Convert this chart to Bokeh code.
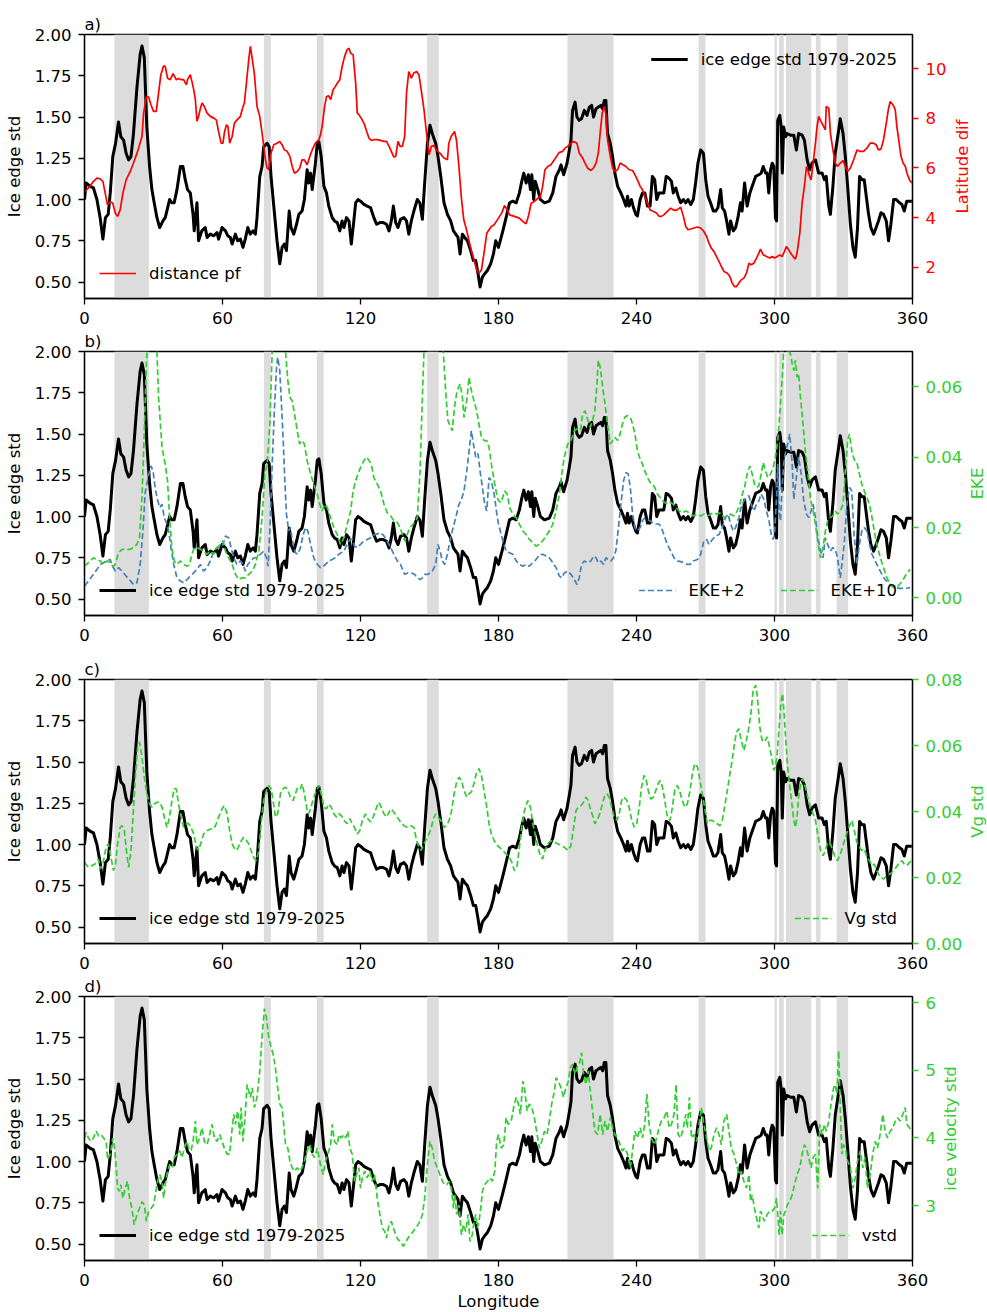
import math
from bokeh.plotting import figure
from bokeh.models import (Range1d, LinearAxis, FixedTicker, PrintfTickFormatter,
                          BoxAnnotation, Legend, LegendItem, Label)
from bokeh.layouts import column, row
from bokeh.embed import file_html
from bokeh.resources import INLINE

FONT = "DejaVu Sans"
FS = "16.5px"

# ---------------- data ----------------
ice_lon = [0, 0.7, 2.5, 3.9, 5.4, 6.8, 8.0, 9.1, 10.3, 11.2, 12.3, 13.5, 14.8, 15.8, 17.0, 18.1, 19.2, 20.2, 21.3, 22.8,
           24.2, 25.0, 26.0, 27.1, 28.3, 29.3, 30.3, 31.5, 32.7, 34.1, 35.1, 35.8, 37.0, 38.0, 39.0, 40.2, 41.7, 42.8, 43.8, 44.8,
           46.0, 47.2, 47.7, 48.9, 49.6, 51.0, 52.5, 53.3, 54.7, 56.2, 57.6, 58.3, 59.8, 61.3, 62.3, 63.4, 64.2, 65.6, 66.6, 67.8,
           68.9, 69.9, 71.0, 72.1, 73.3, 74.3, 75.0, 76.2, 77.2, 77.9, 79.4, 80.3, 81.1, 82.3, 83.7, 84.9, 85.9, 86.9, 87.8, 89.0,
           89.8, 91.0, 92.2, 93.2, 94.6, 95.6, 96.8, 97.5, 98.3, 99.0, 99.7, 100.4, 101.2, 101.9, 102.9, 104.1, 105.2, 106.2, 107.7, 108.7,
           109.9, 111.0, 112.0, 112.8, 113.9, 115.0, 116.0, 117.1, 117.9, 118.9, 120.0, 121.5, 122.9, 124.4, 125.8, 127.0, 128.4, 129.9, 131.3, 132.4,
           133.4, 134.3, 135.3, 136.3, 137.4, 138.9, 140.0, 141.0, 142.1, 143.2, 144.7, 145.8, 146.9, 147.9, 149.1, 150.2, 151.2, 152.7, 153.7, 154.9,
           156.3, 157.8, 159.2, 160.4, 161.4, 162.4, 163.3, 164.3, 165.3, 166.5, 167.9, 169.1, 170.1, 171.1, 172.0, 173.0, 174.0, 175.2, 176.6, 177.8,
           178.8, 180.0, 181.9, 183.3, 184.8, 186.2, 187.7, 189.1, 190.1, 191.0, 192.0, 193.0, 193.9, 194.5, 195.3, 196.0, 197.1, 198.2, 200.0, 202.1,
           203.6, 205.0, 206.5, 207.2, 208.3, 209.8, 210.8, 211.5, 212.2, 213.3, 214.1, 215.1, 216.1, 217.3, 218.5, 219.5, 220.5, 221.3, 222.4, 223.4,
           224.5, 225.3, 226.0, 226.7, 227.4, 228.6, 229.6, 230.6, 231.8, 233.2, 234.4, 235.4, 236.1, 236.8, 237.8, 238.7, 239.7, 240.4, 241.6, 242.6,
           243.6, 244.8, 245.9, 246.9, 247.9, 248.8, 249.8, 250.8, 251.9, 252.9, 254.1, 255.2, 256.0, 257.1, 258.1, 259.2, 260.4, 261.4, 262.4, 263.6,
           264.7, 265.7, 266.7, 267.9, 269.1, 270.1, 271.1, 272.2, 273.4, 274.4, 275.4, 276.6, 277.3, 278.3, 279.2, 280.2, 280.9, 282.1, 283.1, 284.1,
           285.2, 285.9, 287.0, 288.1, 289.3, 290.3, 291.8, 293.2, 294.2, 295.1, 296.1, 296.8, 297.5, 298.3, 299.0, 299.7, 300.4, 300.9, 301.4, 302.3,
           302.9, 303.4, 304.0, 304.8, 305.5, 306.9, 308.4, 309.5, 310.5, 312.0, 313.0, 314.2, 315.3, 316.3, 317.8, 319.2, 320.7, 321.7, 322.5, 323.6,
           324.3, 325.4, 326.4, 327.9, 328.6, 329.8, 330.8, 331.8, 333.0, 334.1, 335.1, 336.1, 337.0, 338.0, 339.0, 339.9, 340.9, 341.9, 343.1, 344.2,
           345.2, 346.3, 347.4, 348.6, 349.6, 350.6, 351.8, 352.9, 354.4, 355.4, 356.4, 357.5, 358.7, 359.7]
ice_std = [1.00, 1.10, 1.08, 1.07, 1.00, 0.89, 0.76, 0.89, 0.91, 1.04, 1.26, 1.34, 1.47, 1.38, 1.36, 1.28, 1.24, 1.26, 1.40, 1.68,
           1.88, 1.93, 1.86, 1.44, 1.20, 1.06, 0.98, 0.89, 0.83, 0.87, 0.89, 0.93, 1.00, 0.98, 0.98, 1.06, 1.20, 1.20, 1.12, 1.06,
           1.04, 0.91, 0.81, 0.98, 0.75, 0.81, 0.83, 0.77, 0.79, 0.78, 0.80, 0.76, 0.83, 0.81, 0.78, 0.77, 0.73, 0.79, 0.75, 0.76,
           0.71, 0.76, 0.83, 0.79, 0.81, 0.79, 0.89, 1.14, 1.20, 1.32, 1.34, 1.32, 1.14, 0.96, 0.75, 0.61, 0.71, 0.73, 0.69, 0.93,
           0.83, 0.79, 0.85, 0.91, 0.93, 1.00, 1.18, 1.10, 1.16, 1.06, 1.14, 1.22, 1.34, 1.35, 1.26, 1.08, 1.04, 0.96, 0.89, 0.87,
           0.86, 0.81, 0.87, 0.83, 0.89, 0.87, 0.73, 0.87, 0.98, 1.00, 0.99, 0.97, 0.96, 0.95, 0.89, 0.85, 0.86, 0.86, 0.85, 0.81,
           0.87, 0.96, 0.86, 0.83, 0.88, 0.89, 0.87, 0.79, 0.87, 0.93, 1.00, 0.98, 0.88, 1.10, 1.34, 1.45, 1.40, 1.34, 1.26, 1.14,
           0.98, 0.91, 0.87, 0.81, 0.79, 0.77, 0.67, 0.79, 0.77, 0.75, 0.69, 0.63, 0.63, 0.55, 0.47, 0.53, 0.55, 0.57, 0.61, 0.67,
           0.75, 0.71, 0.81, 0.89, 0.98, 0.99, 0.98, 1.04, 1.11, 1.16, 1.10, 1.15, 1.06, 1.15, 1.00, 1.11, 1.06, 1.00, 0.98, 0.99,
           1.04, 1.14, 1.18, 1.21, 1.15, 1.22, 1.30, 1.36, 1.54, 1.59, 1.50, 1.48, 1.49, 1.54, 1.51, 1.56, 1.57, 1.50, 1.55, 1.56,
           1.57, 1.55, 1.60, 1.60, 1.40, 1.34, 1.26, 1.16, 1.08, 1.04, 1.00, 0.96, 1.02, 0.96, 1.00, 0.95, 0.91, 0.90, 1.00, 1.04,
           1.04, 0.96, 0.96, 1.14, 1.12, 1.00, 1.04, 1.04, 1.04, 1.14, 1.13, 1.11, 1.04, 1.07, 1.02, 0.98, 1.00, 0.98, 1.00, 0.97,
           1.00, 1.10, 1.22, 1.30, 1.28, 1.12, 1.02, 0.98, 0.93, 0.93, 0.95, 1.06, 0.95, 0.93, 0.87, 0.79, 0.87, 0.81, 0.83, 0.89,
           0.98, 0.93, 1.10, 0.96, 1.04, 1.08, 1.14, 1.15, 1.16, 1.20, 1.16, 1.16, 1.04, 1.18, 1.22, 1.20, 0.89, 0.87, 1.48, 1.51,
           1.44, 1.16, 1.44, 1.38, 1.40, 1.39, 1.39, 1.30, 1.40, 1.39, 1.36, 1.24, 1.18, 1.22, 1.24, 1.16, 1.16, 1.12, 1.14, 0.96,
           0.91, 1.08, 1.28, 1.42, 1.49, 1.40, 1.26, 1.08, 0.85, 0.71, 0.65, 0.83, 1.14, 1.12, 1.12, 1.02, 0.91, 0.83, 0.79, 0.83,
           0.87, 0.92, 0.91, 0.87, 0.75, 0.85, 1.00, 1.00, 0.98, 0.97, 0.93, 0.99, 0.99, 0.99]

pf_lon = [0, 1.7, 3.9, 5.4, 6.8, 8.0, 9.0, 10.0, 11.2, 12.3, 13.4, 14.4, 15.5, 16.7, 18.1, 19.9, 21.3, 23.1, 25.0, 25.7,
          26.9, 27.9, 28.9, 30.0, 31.2, 32.2, 33.2, 34.4, 35.1, 36.1, 37.3, 38.5, 39.9, 40.9, 42.0, 43.1, 44.3, 44.8, 46.0, 46.7,
          47.5, 48.2, 48.9, 49.6, 50.4, 51.1, 52.1, 53.3, 54.7, 56.2, 57.3, 58.3, 59.4, 60.2, 60.8, 61.7, 62.4, 63.1, 64.2, 65.2,
          66.3, 67.1, 67.8, 68.5, 69.5, 70.4, 71.4, 72.1, 72.9, 73.9, 75.0, 76.2, 77.2, 78.7, 79.4, 80.1, 81.1, 82.3, 83.7, 84.9,
          85.9, 86.9, 88.1, 89.3, 90.3, 91.3, 92.5, 93.6, 94.6, 95.6, 96.8, 98.0, 99.0, 100.4, 101.9, 102.6, 103.3, 104.4, 105.2, 106.2,
          107.0, 108.1, 109.1, 109.9, 111.0, 112.0, 113.1, 114.2, 115.0, 115.7, 116.8, 117.9, 118.6, 119.3, 120.3, 121.5, 122.7, 123.7, 124.7, 125.8,
          127.3, 128.7, 130.2, 131.3, 132.4, 133.4, 134.5, 135.3, 136.3, 137.2, 138.2, 139.2, 140.0, 141.0, 142.1, 143.2, 144.4, 145.4, 146.4, 147.6,
          148.7, 149.8, 150.8, 151.9, 153.4, 154.5, 156.3, 157.8, 158.4, 159.4, 160.9, 161.7, 162.8, 163.8, 164.9, 166.1, 167.1, 168.1, 169.3, 170.5,
          171.5, 172.6, 173.7, 174.9, 175.9, 176.9, 178.1, 179.5, 181.4, 182.6, 183.8, 184.8, 186.9, 189.1, 190.6, 192.0, 193.0, 194.2, 195.6, 197.1,
          198.2, 199.2, 200.2, 201.4, 202.8, 204.3, 205.7, 206.5, 207.9, 208.9, 210.1, 211.5, 212.7, 214.1, 215.1, 216.6, 217.6, 218.7, 220.2, 221.3,
          222.4, 223.4, 224.2, 225.1, 226.0, 226.7, 227.4, 228.6, 229.6, 230.6, 231.8, 232.9, 234.1, 235.4, 236.8, 238.3, 239.3, 240.4, 241.6, 242.6,
          243.6, 244.8, 245.9, 247.4, 248.8, 249.8, 250.8, 251.9, 253.4, 254.9, 256.0, 257.1, 258.1, 259.2, 260.4, 261.4, 262.4, 263.6, 265.0, 266.5,
          267.9, 269.3, 270.5, 271.5, 272.5, 273.7, 274.8, 275.9, 276.9, 278.0, 279.5, 280.6, 281.6, 282.6, 283.5, 284.5, 285.5, 286.7, 287.8, 288.9,
          289.9, 291.0, 292.2, 293.2, 293.9, 295.1, 296.5, 298.0, 299.0, 300.0, 301.2, 302.3, 303.3, 304.3, 305.2, 306.2, 307.0, 308.1, 309.1, 309.8,
          311.0, 312.0, 313.0, 313.9, 314.4, 315.3, 315.9, 316.8, 317.8, 318.5, 319.2, 320.2, 321.4, 322.1, 322.5, 323.6, 324.3, 325.4, 326.4, 327.4,
          328.6, 329.8, 330.8, 331.8, 333.0, 334.4, 335.9, 337.0, 338.7, 340.2, 341.6, 343.1, 344.2, 345.2, 346.3, 347.4, 348.6, 349.6, 350.3, 351.5,
          352.5, 353.2, 354.0, 355.0, 355.9, 356.9, 357.6, 358.7, 359.7]
pf_dist = [5.05, 5.19, 5.46, 5.59, 5.56, 5.46, 4.99, 4.52, 4.65, 4.58, 4.18, 4.05, 4.31, 4.99, 5.52, 5.86, 6.20, 6.67, 7.27, 8.21,
           8.88, 8.86, 8.55, 8.28, 8.28, 9.02, 9.76, 10.12, 10.09, 9.62, 9.56, 9.80, 9.56, 9.61, 9.56, 9.56, 9.35, 9.56, 9.76, 9.49,
           9.15, 8.75, 7.88, 8.08, 8.41, 8.62, 8.48, 8.21, 8.08, 8.01, 7.94, 7.47, 7.00, 7.00, 7.41, 7.74, 7.67, 7.00, 7.27, 7.81,
           7.94, 8.01, 8.08, 8.35, 8.62, 9.42, 10.36, 10.90, 10.43, 9.76, 8.48, 8.08, 7.41, 6.33, 6.00, 5.93, 6.60, 6.94, 7.00, 7.07,
           6.94, 6.73, 6.67, 6.47, 6.06, 5.79, 5.86, 6.00, 6.33, 6.33, 6.13, 6.47, 6.73, 7.00, 7.14, 7.34, 7.67, 8.48, 8.88, 8.91,
           8.75, 9.15, 9.29, 9.42, 9.56, 10.09, 10.50, 10.77, 10.83, 10.63, 10.56, 9.42, 8.21, 8.15, 8.01, 7.81, 7.47, 7.20, 7.11, 7.14,
           7.14, 7.11, 7.07, 7.07, 6.87, 6.67, 6.44, 6.47, 7.07, 6.87, 6.87, 7.27, 9.02, 9.89, 9.62, 9.83, 9.89, 9.76, 9.15, 8.35,
           7.41, 6.53, 6.87, 6.90, 6.67, 6.60, 6.40, 6.33, 7.00, 7.27, 7.47, 7.14, 6.06, 4.85, 3.91, 3.51, 3.10, 2.70, 2.30, 1.90,
           1.76, 1.90, 2.57, 3.37, 3.51, 3.64, 3.71, 3.91, 4.18, 4.49, 4.31, 4.11, 4.05, 3.98, 3.84, 3.75, 4.05, 4.58, 4.65, 4.78,
           4.83, 5.26, 5.93, 6.06, 6.13, 6.33, 6.53, 6.63, 6.67, 6.80, 6.87, 7.00, 7.07, 7.00, 6.60, 6.40, 6.20, 6.00, 5.90, 6.00,
           6.20, 6.60, 7.41, 8.21, 8.48, 8.15, 7.14, 6.47, 6.00, 5.86, 5.93, 6.20, 6.13, 6.06, 5.93, 5.90, 5.73, 5.52, 5.26, 5.12,
           4.85, 4.58, 4.31, 4.25, 4.18, 4.05, 4.05, 4.11, 4.25, 4.38, 4.31, 4.29, 4.34, 4.42, 4.05, 3.64, 3.51, 3.54, 3.58, 3.62,
           3.58, 3.44, 3.24, 2.97, 2.77, 2.63, 2.43, 2.23, 2.03, 1.83, 1.76, 1.63, 1.36, 1.22, 1.22, 1.36, 1.49, 1.56, 1.76, 2.16,
           2.10, 2.16, 2.37, 2.57, 2.73, 2.50, 2.43, 2.37, 2.43, 2.37, 2.43, 2.50, 2.43, 2.63, 2.84, 2.70, 2.57, 2.43, 2.33, 2.57,
           3.37, 4.58, 5.26, 6.06, 5.93, 5.66, 5.52, 6.20, 7.00, 7.67, 8.08, 7.88, 7.67, 7.54, 8.48, 8.41, 7.41, 6.73, 6.20, 6.06,
           6.20, 6.30, 6.06, 5.86, 6.00, 6.33, 6.73, 6.67, 6.67, 6.80, 7.00, 7.00, 6.94, 6.73, 6.76, 7.14, 7.81, 8.41, 8.68, 8.55,
           8.35, 7.67, 7.14, 6.47, 6.20, 6.06, 5.79, 5.52, 5.39]

eke2_lon = [0, 1.7, 3.9, 5.4, 6.8, 8.3, 9.7, 11.2, 12.2, 13.4, 14.8, 16.3, 18.1, 19.9, 21.3, 22.8, 24.2, 25.4, 26.4, 27.9,
            28.9, 29.8, 30.8, 31.5, 32.7, 33.7, 34.7, 35.8, 36.6, 37.6, 38.8, 40.2, 41.7, 43.1, 44.6, 46.0, 47.5, 48.9, 50.4, 51.8,
            53.3, 54.7, 56.2, 57.6, 59.1, 60.2, 61.3, 62.7, 63.7, 64.9, 66.3, 67.8, 68.9, 69.9, 71.0, 72.4, 73.6, 75.0, 76.5, 77.9,
            79.1, 79.8, 80.6, 81.6, 82.6, 83.5, 84.0, 84.9, 85.5, 86.4, 87.1, 87.8, 88.8, 89.5, 90.7, 91.7, 92.7, 93.9, 95.1, 96.1,
            97.1, 98.3, 99.7, 101.2, 102.6, 103.8, 104.8, 106.2, 107.7, 109.1, 110.6, 111.6, 112.8, 114.2, 115.4, 116.4, 117.4, 118.6, 120.0, 121.5,
            122.9, 124.4, 125.8, 127.3, 128.7, 130.2, 131.6, 133.1, 134.5, 136.0, 137.4, 139.2, 140.6, 142.1, 143.5, 144.7, 145.9, 146.9, 147.9, 149.4,
            151.2, 152.7, 153.7, 154.6, 155.6, 156.6, 157.8, 158.9, 159.9, 161.4, 162.8, 163.9, 165.0, 166.2, 167.2, 168.2, 169.1, 170.1, 171.1, 172.0,
            173.0, 174.0, 174.9, 175.9, 176.9, 178.1, 179.5, 180.0, 181.9, 183.3, 184.8, 186.2, 187.7, 189.1, 190.6, 192.0, 193.4, 194.9, 196.3, 197.8,
            199.2, 200.7, 202.1, 203.6, 205.0, 206.5, 207.5, 208.6, 210.1, 211.5, 213.0, 214.1, 215.1, 216.1, 217.3, 218.7, 220.2, 221.3, 222.4, 223.4,
            224.5, 225.7, 226.7, 227.7, 228.9, 230.0, 231.0, 232.0, 233.2, 234.4, 235.4, 236.4, 237.3, 238.3, 239.3, 240.4, 241.6, 242.6, 243.6, 244.8,
            245.9, 246.9, 248.4, 249.8, 250.8, 251.9, 253.4, 254.9, 256.3, 257.8, 259.2, 260.7, 262.1, 263.3, 264.7, 266.5, 267.9, 269.3, 270.5, 271.5,
            273.0, 274.4, 275.9, 277.3, 278.7, 279.8, 280.9, 282.1, 283.1, 284.5, 285.5, 286.7, 287.8, 288.9, 289.9, 291.0, 292.2, 293.2, 294.2, 295.4,
            296.5, 297.6, 298.6, 299.4, 300.0, 300.9, 301.4, 302.0, 302.6, 303.3, 304.0, 304.9, 305.7, 306.6, 307.7, 308.4, 309.5, 310.5, 311.6, 312.7,
            313.9, 314.9, 315.9, 316.8, 317.8, 318.8, 320.0, 321.1, 322.1, 323.1, 324.3, 325.4, 326.4, 327.4, 328.6, 329.3, 330.3, 331.5, 332.6, 333.6,
            334.6, 335.8, 336.9, 338.0, 339.0, 340.2, 341.3, 342.4, 343.8, 345.2, 346.7, 348.1, 349.6, 351.0, 352.5, 354.6, 356.8, 359.0]
eke2 = [0.0033, 0.0048, 0.0067, 0.0081, 0.0095, 0.0100, 0.0105, 0.0109, 0.0090, 0.0076, 0.0086, 0.0076, 0.0062, 0.0049, 0.0038, 0.0043, 0.0095, 0.0190, 0.0300, 0.0350,
        0.0375, 0.0360, 0.0310, 0.0285, 0.0257, 0.0266, 0.0228, 0.0210, 0.0190, 0.0143, 0.0095, 0.0057, 0.0048, 0.0043, 0.0052, 0.0062, 0.0071, 0.0081, 0.0095, 0.0076,
        0.0086, 0.0105, 0.0133, 0.0143, 0.0143, 0.0152, 0.0176, 0.0171, 0.0143, 0.0114, 0.0095, 0.0105, 0.0095, 0.0076, 0.0095, 0.0105, 0.0114, 0.0114, 0.0124, 0.0133,
        0.0114, 0.0090, 0.0190, 0.0380, 0.0540, 0.0656, 0.0684, 0.0646, 0.0570, 0.0447, 0.0333, 0.0238, 0.0190, 0.0200, 0.0152, 0.0128, 0.0124, 0.0143, 0.0180, 0.0200,
        0.0190, 0.0152, 0.0114, 0.0095, 0.0086, 0.0090, 0.0095, 0.0105, 0.0109, 0.0114, 0.0124, 0.0128, 0.0133, 0.0152, 0.0166, 0.0166, 0.0147, 0.0143, 0.0152, 0.0162,
        0.0166, 0.0171, 0.0179, 0.0182, 0.0185, 0.0176, 0.0162, 0.0143, 0.0124, 0.0105, 0.0095, 0.0067, 0.0071, 0.0071, 0.0067, 0.0057, 0.0052, 0.0057, 0.0067, 0.0067,
        0.0076, 0.0095, 0.0152, 0.0133, 0.0105, 0.0095, 0.0124, 0.0162, 0.0190, 0.0228, 0.0266, 0.0280, 0.0304, 0.0360, 0.0418, 0.0475, 0.0437, 0.0400, 0.0410, 0.0360,
        0.0314, 0.0266, 0.0247, 0.0342, 0.0333, 0.0295, 0.0228, 0.0210, 0.0162, 0.0133, 0.0128, 0.0124, 0.0105, 0.0095, 0.0090, 0.0095, 0.0090, 0.0100, 0.0109, 0.0122,
        0.0124, 0.0119, 0.0114, 0.0100, 0.0086, 0.0062, 0.0057, 0.0071, 0.0076, 0.0067, 0.0052, 0.0038, 0.0057, 0.0095, 0.0105, 0.0100, 0.0105, 0.0119, 0.0114, 0.0100,
        0.0105, 0.0095, 0.0114, 0.0109, 0.0105, 0.0114, 0.0133, 0.0190, 0.0266, 0.0333, 0.0356, 0.0352, 0.0314, 0.0238, 0.0200, 0.0190, 0.0200, 0.0219, 0.0228, 0.0223,
        0.0219, 0.0214, 0.0210, 0.0210, 0.0200, 0.0180, 0.0152, 0.0133, 0.0114, 0.0105, 0.0103, 0.0100, 0.0095, 0.0095, 0.0105, 0.0109, 0.0124, 0.0162, 0.0166, 0.0152,
        0.0166, 0.0176, 0.0180, 0.0200, 0.0228, 0.0238, 0.0210, 0.0190, 0.0200, 0.0228, 0.0257, 0.0276, 0.0285, 0.0290, 0.0266, 0.0247, 0.0266, 0.0276, 0.0295, 0.0280,
        0.0247, 0.0219, 0.0180, 0.0166, 0.0180, 0.0285, 0.0380, 0.0247, 0.0219, 0.0314, 0.0380, 0.0418, 0.0437, 0.0466, 0.0380, 0.0280, 0.0342, 0.0400, 0.0352, 0.0276,
        0.0238, 0.0228, 0.0247, 0.0266, 0.0228, 0.0171, 0.0133, 0.0114, 0.0171, 0.0152, 0.0133, 0.0143, 0.0138, 0.0114, 0.0057, 0.0095, 0.0152, 0.0266, 0.0314, 0.0304,
        0.0180, 0.0095, 0.0152, 0.0190, 0.0200, 0.0190, 0.0152, 0.0124, 0.0105, 0.0086, 0.0067, 0.0052, 0.0043, 0.0033, 0.0029, 0.0027, 0.0027, 0.0029]

eke10_lon = [0, 1.7, 3.9, 5.4, 6.8, 8.3, 9.7, 11.2, 12.3, 13.4, 14.8, 16.3, 18.1, 19.9, 21.3, 22.8, 23.9, 25.0, 26.0, 26.9,
             28.5, 30.5, 31.5, 32.2, 33.7, 35.1, 36.1, 37.0, 38.0, 39.0, 40.2, 41.7, 43.1, 44.6, 45.7, 46.7, 47.8, 48.9, 50.4, 51.8,
             53.3, 54.7, 56.2, 57.6, 59.1, 60.2, 61.3, 62.7, 64.2, 65.6, 67.1, 68.5, 69.9, 71.4, 72.9, 74.3, 75.8, 77.2, 78.4, 79.4,
             80.6, 81.6, 84.5, 87.4, 88.4, 89.3, 90.3, 91.3, 92.5, 93.5, 94.6, 95.6, 96.8, 98.3, 99.7, 101.2, 102.3, 103.3, 104.4, 105.5,
             107.0, 108.4, 109.9, 111.3, 112.8, 114.2, 115.7, 116.8, 117.9, 118.9, 120.0, 121.5, 122.6, 123.7, 124.7, 125.8, 127.3, 128.7, 130.2, 131.6,
             133.1, 134.5, 136.0, 137.2, 138.2, 139.2, 140.3, 141.5, 142.9, 144.0, 144.7, 145.9, 146.9, 147.6, 151.5, 156.0, 157.0, 158.0, 159.2, 159.9,
             160.9, 162.0, 163.3, 164.3, 165.0, 166.2, 167.2, 168.2, 169.3, 170.5, 171.5, 172.6, 173.7, 174.9, 175.9, 176.9, 178.1, 179.5, 180.0, 181.2,
             182.6, 183.8, 184.8, 186.2, 187.7, 189.1, 190.6, 192.0, 193.4, 194.9, 196.3, 197.8, 199.2, 200.7, 202.1, 203.6, 205.0, 206.5, 207.5, 208.6,
             210.1, 211.5, 213.0, 214.1, 215.6, 216.6, 217.6, 218.7, 219.9, 220.9, 221.9, 222.8, 223.4, 224.2, 225.3, 226.3, 227.4, 228.6, 229.6, 230.6,
             231.8, 232.9, 233.9, 234.9, 236.1, 237.3, 238.3, 239.3, 240.4, 241.6, 242.6, 243.6, 244.8, 245.9, 246.9, 247.9, 249.1, 250.3, 251.3, 252.3,
             253.4, 254.9, 256.0, 257.1, 258.5, 260.0, 261.4, 262.8, 264.7, 266.5, 267.9, 269.3, 270.8, 272.2, 273.7, 275.1, 276.6, 278.0, 279.5, 280.9,
             282.4, 283.8, 285.0, 286.0, 287.0, 288.1, 289.3, 290.3, 291.3, 292.2, 293.2, 294.2, 295.1, 296.1, 297.1, 298.3, 299.4, 300.4, 301.4, 302.3,
             303.3, 304.0, 305.0, 306.2, 306.9, 307.7, 308.4, 309.1, 309.8, 310.5, 311.3, 312.4, 313.4, 314.4, 315.6, 316.8, 317.8, 318.8, 320.0, 321.1,
             322.1, 323.1, 324.3, 325.4, 326.4, 327.4, 328.6, 329.8, 330.8, 331.8, 332.6, 333.6, 334.6, 335.8, 336.9, 338.0, 339.0, 340.2, 341.3, 342.4,
             343.4, 344.5, 346.0, 347.4, 348.9, 350.3, 351.8, 353.5, 355.0, 356.4, 357.6, 359.0]
eke10 = [0.0090, 0.0100, 0.0114, 0.0109, 0.0105, 0.0095, 0.0105, 0.0100, 0.0090, 0.0095, 0.0128, 0.0138, 0.0138, 0.0138, 0.0143, 0.0152, 0.0171, 0.0285, 0.0475, 0.0665,
         0.0850, 0.0850, 0.0700, 0.0570, 0.0428, 0.0380, 0.0333, 0.0228, 0.0143, 0.0105, 0.0095, 0.0105, 0.0095, 0.0090, 0.0095, 0.0124, 0.0143, 0.0143, 0.0138, 0.0133,
         0.0124, 0.0133, 0.0124, 0.0143, 0.0152, 0.0162, 0.0133, 0.0114, 0.0095, 0.0067, 0.0052, 0.0057, 0.0057, 0.0067, 0.0076, 0.0095, 0.0133, 0.0228, 0.0352, 0.0380,
         0.0494, 0.0700, 0.0950, 0.0700, 0.0618, 0.0570, 0.0560, 0.0523, 0.0475, 0.0437, 0.0447, 0.0437, 0.0390, 0.0352, 0.0323, 0.0295, 0.0266, 0.0247, 0.0266, 0.0257,
         0.0228, 0.0200, 0.0180, 0.0152, 0.0171, 0.0209, 0.0247, 0.0304, 0.0333, 0.0352, 0.0370, 0.0390, 0.0400, 0.0390, 0.0380, 0.0342, 0.0323, 0.0304, 0.0266, 0.0242,
         0.0233, 0.0219, 0.0214, 0.0200, 0.0180, 0.0162, 0.0180, 0.0200, 0.0210, 0.0219, 0.0228, 0.0360, 0.0570, 0.0700, 0.0950, 0.0700, 0.0589, 0.0504, 0.0485, 0.0475,
         0.0542, 0.0589, 0.0608, 0.0570, 0.0513, 0.0561, 0.0627, 0.0589, 0.0561, 0.0532, 0.0494, 0.0456, 0.0447, 0.0447, 0.0428, 0.0380, 0.0333, 0.0285, 0.0276, 0.0271,
         0.0304, 0.0295, 0.0257, 0.0238, 0.0228, 0.0209, 0.0190, 0.0180, 0.0166, 0.0157, 0.0147, 0.0152, 0.0162, 0.0176, 0.0190, 0.0209, 0.0247, 0.0295, 0.0352, 0.0400,
         0.0437, 0.0447, 0.0475, 0.0480, 0.0475, 0.0523, 0.0532, 0.0508, 0.0485, 0.0504, 0.0532, 0.0608, 0.0675, 0.0656, 0.0599, 0.0551, 0.0494, 0.0437, 0.0447, 0.0456,
         0.0447, 0.0466, 0.0494, 0.0513, 0.0518, 0.0513, 0.0494, 0.0466, 0.0418, 0.0394, 0.0380, 0.0361, 0.0342, 0.0328, 0.0323, 0.0314, 0.0295, 0.0285, 0.0276, 0.0271,
         0.0266, 0.0271, 0.0266, 0.0257, 0.0247, 0.0242, 0.0247, 0.0242, 0.0233, 0.0238, 0.0233, 0.0238, 0.0233, 0.0238, 0.0242, 0.0238, 0.0242, 0.0228, 0.0233, 0.0238,
         0.0233, 0.0247, 0.0266, 0.0295, 0.0314, 0.0352, 0.0375, 0.0352, 0.0323, 0.0314, 0.0318, 0.0352, 0.0385, 0.0360, 0.0342, 0.0352, 0.0370, 0.0400, 0.0447, 0.0523,
         0.0618, 0.0700, 0.0740, 0.0700, 0.0694, 0.0665, 0.0646, 0.0675, 0.0627, 0.0637, 0.0570, 0.0494, 0.0418, 0.0360, 0.0285, 0.0247, 0.0209, 0.0162, 0.0114, 0.0143,
         0.0190, 0.0219, 0.0228, 0.0233, 0.0247, 0.0238, 0.0247, 0.0266, 0.0360, 0.0447, 0.0466, 0.0418, 0.0394, 0.0385, 0.0352, 0.0323, 0.0304, 0.0285, 0.0266, 0.0228,
         0.0190, 0.0152, 0.0114, 0.0086, 0.0057, 0.0038, 0.0029, 0.0033, 0.0043, 0.0057, 0.0071, 0.0081]

vg_lon = [0, 1.7, 3.2, 4.6, 6.1, 6.8, 8.0, 9.4, 10.4, 11.5, 12.6, 13.4, 14.4, 15.5, 16.3, 17.3, 18.4, 19.2, 20.2, 21.0,
          22.1, 23.1, 23.9, 25.0, 26.0, 27.1, 28.3, 29.3, 30.3, 31.5, 32.7, 33.7, 34.7, 35.8, 37.0, 38.0, 39.0, 39.9, 40.9, 42.0,
          43.1, 44.3, 45.3, 46.3, 47.5, 48.6, 49.6, 50.7, 51.8, 53.3, 54.7, 56.2, 57.3, 58.3, 59.8, 60.8, 62.0, 63.1, 64.2, 65.6,
          66.6, 67.8, 69.2, 70.4, 71.4, 72.4, 73.6, 74.7, 75.8, 76.8, 77.9, 79.1, 80.1, 81.1, 82.0, 83.0, 84.0, 85.2, 86.4, 87.4,
          88.4, 89.5, 90.7, 91.7, 92.7, 93.9, 94.6, 95.6, 96.8, 97.5, 98.5, 99.7, 100.9, 101.9, 102.9, 104.1, 105.2, 106.2, 107.3, 108.4,
          109.6, 110.6, 111.6, 112.8, 114.2, 115.4, 116.4, 117.4, 118.6, 119.7, 120.8, 122.2, 123.2, 124.4, 125.5, 127.0, 128.0, 129.0, 130.2, 131.3,
          132.4, 133.4, 134.5, 136.0, 137.4, 138.9, 140.3, 141.8, 143.2, 144.4, 145.4, 146.4, 147.6, 148.7, 149.8, 150.8, 151.7, 152.7, 153.7, 154.9,
          156.3, 157.5, 158.5, 159.5, 160.7, 161.8, 162.8, 163.9, 165.0, 166.2, 167.2, 168.2, 169.3, 170.5, 171.5, 172.6, 173.7, 174.9, 175.9, 176.9,
          178.1, 179.5, 181.9, 183.3, 184.8, 185.8, 186.9, 188.1, 189.1, 190.1, 191.3, 192.7, 193.9, 194.9, 195.9, 197.1, 198.2, 199.2, 200.2, 201.4,
          202.8, 204.3, 205.7, 207.2, 208.6, 210.1, 211.5, 212.7, 213.7, 214.7, 215.9, 217.0, 218.0, 219.0, 219.9, 220.9, 221.9, 222.8, 223.8, 224.8,
          226.0, 227.1, 228.1, 229.2, 230.3, 231.5, 232.5, 233.5, 234.6, 235.8, 236.8, 237.8, 239.0, 240.1, 241.2, 242.2, 243.3, 244.0, 245.1, 246.2,
          247.4, 248.4, 249.4, 250.3, 251.3, 252.3, 253.4, 254.6, 255.6, 256.6, 257.8, 258.9, 259.9, 261.0, 262.1, 263.3, 264.3, 265.3, 266.5, 267.6,
          268.6, 269.6, 270.8, 271.9, 272.9, 274.0, 275.1, 276.3, 277.3, 278.3, 279.5, 280.6, 281.6, 282.6, 283.5, 284.5, 285.5, 286.7, 287.8, 288.9,
          289.9, 290.7, 291.8, 292.5, 293.6, 294.6, 295.7, 296.8, 297.9, 299.0, 299.7, 300.4, 301.2, 302.0, 302.9, 303.5, 304.1, 304.8, 305.5, 306.2,
          307.2, 308.4, 309.1, 309.8, 310.5, 311.6, 312.4, 313.4, 314.4, 315.6, 316.8, 317.8, 318.8, 320.0, 321.1, 322.1, 323.1, 324.3, 325.4, 326.4,
          327.4, 328.6, 329.8, 330.8, 331.8, 333.0, 333.7, 334.7, 335.8, 336.9, 338.0, 339.0, 340.2, 341.3, 342.4, 343.4, 344.5, 346.0, 347.4, 348.9,
          350.3, 351.8, 352.9, 354.4, 355.4, 356.4, 357.6, 358.7, 359.7]
vg_std = [0.0246, 0.0231, 0.0236, 0.0241, 0.0256, 0.0226, 0.0241, 0.0292, 0.0302, 0.0261, 0.0221, 0.0236, 0.0302, 0.0352, 0.0357, 0.0342, 0.0271, 0.0231, 0.0282, 0.0373,
          0.0504, 0.0595, 0.0611, 0.0565, 0.0504, 0.0454, 0.0423, 0.0413, 0.0423, 0.0428, 0.0428, 0.0413, 0.0383, 0.0352, 0.0383, 0.0433, 0.0469, 0.0469, 0.0423, 0.0383,
          0.0352, 0.0363, 0.0363, 0.0352, 0.0332, 0.0292, 0.0282, 0.0307, 0.0332, 0.0342, 0.0347, 0.0347, 0.0363, 0.0383, 0.0408, 0.0418, 0.0393, 0.0342, 0.0302, 0.0282,
          0.0287, 0.0307, 0.0322, 0.0312, 0.0302, 0.0282, 0.0261, 0.0251, 0.0282, 0.0363, 0.0433, 0.0464, 0.0479, 0.0469, 0.0433, 0.0383, 0.0393, 0.0454, 0.0469, 0.0474,
          0.0464, 0.0444, 0.0433, 0.0454, 0.0474, 0.0469, 0.0484, 0.0454, 0.0403, 0.0393, 0.0413, 0.0444, 0.0464, 0.0479, 0.0454, 0.0413, 0.0408, 0.0423, 0.0413, 0.0393,
          0.0383, 0.0393, 0.0388, 0.0373, 0.0363, 0.0378, 0.0363, 0.0352, 0.0332, 0.0342, 0.0373, 0.0393, 0.0378, 0.0368, 0.0383, 0.0413, 0.0428, 0.0413, 0.0393, 0.0383,
          0.0398, 0.0408, 0.0398, 0.0383, 0.0368, 0.0357, 0.0352, 0.0357, 0.0352, 0.0312, 0.0292, 0.0282, 0.0302, 0.0317, 0.0332, 0.0352, 0.0378, 0.0393, 0.0383, 0.0373,
          0.0352, 0.0357, 0.0373, 0.0398, 0.0454, 0.0489, 0.0504, 0.0494, 0.0464, 0.0444, 0.0454, 0.0459, 0.0484, 0.0519, 0.0530, 0.0509, 0.0464, 0.0413, 0.0363, 0.0332,
          0.0312, 0.0297, 0.0282, 0.0271, 0.0261, 0.0246, 0.0221, 0.0236, 0.0292, 0.0352, 0.0403, 0.0433, 0.0413, 0.0363, 0.0332, 0.0292, 0.0266, 0.0256, 0.0282, 0.0302,
          0.0312, 0.0307, 0.0302, 0.0297, 0.0292, 0.0282, 0.0297, 0.0352, 0.0403, 0.0413, 0.0418, 0.0428, 0.0444, 0.0433, 0.0408, 0.0388, 0.0363, 0.0373, 0.0388, 0.0413,
          0.0444, 0.0454, 0.0444, 0.0413, 0.0383, 0.0373, 0.0393, 0.0433, 0.0444, 0.0433, 0.0413, 0.0378, 0.0352, 0.0363, 0.0413, 0.0474, 0.0509, 0.0504, 0.0464, 0.0438,
          0.0444, 0.0464, 0.0484, 0.0494, 0.0474, 0.0433, 0.0383, 0.0373, 0.0413, 0.0464, 0.0479, 0.0459, 0.0433, 0.0413, 0.0423, 0.0464, 0.0514, 0.0545, 0.0535, 0.0494,
          0.0454, 0.0413, 0.0363, 0.0373, 0.0373, 0.0368, 0.0363, 0.0357, 0.0373, 0.0413, 0.0464, 0.0514, 0.0555, 0.0606, 0.0641, 0.0651, 0.0616, 0.0585, 0.0616, 0.0656,
          0.0707, 0.0768, 0.0783, 0.0752, 0.0656, 0.0616, 0.0611, 0.0626, 0.0595, 0.0555, 0.0525, 0.0535, 0.0575, 0.0656, 0.0737, 0.0757, 0.0707, 0.0626, 0.0555, 0.0504,
          0.0444, 0.0373, 0.0352, 0.0383, 0.0444, 0.0494, 0.0499, 0.0474, 0.0444, 0.0413, 0.0393, 0.0373, 0.0332, 0.0282, 0.0266, 0.0282, 0.0307, 0.0302, 0.0282, 0.0261,
          0.0251, 0.0271, 0.0297, 0.0322, 0.0342, 0.0363, 0.0373, 0.0342, 0.0307, 0.0292, 0.0282, 0.0287, 0.0261, 0.0251, 0.0236, 0.0241, 0.0221, 0.0201, 0.0195, 0.0206,
          0.0211, 0.0221, 0.0231, 0.0246, 0.0251, 0.0241, 0.0236, 0.0246, 0.0251]

vstd_lon = [0, 0.7, 1.7, 2.8, 3.9, 5.1, 6.1, 7.1, 8.3, 9.4, 10.0, 11.2, 12.3, 13.1, 13.8, 14.4, 15.2, 15.8, 16.7, 17.7,
            18.7, 19.6, 20.6, 21.6, 22.8, 23.9, 25.0, 26.0, 26.9, 27.9, 28.9, 30.0, 30.8, 31.8, 32.7, 33.7, 34.4, 35.1, 35.8, 37.0,
            38.0, 39.0, 40.2, 41.4, 42.4, 43.4, 44.6, 45.3, 46.3, 47.2, 48.2, 48.9, 50.1, 51.1, 52.1, 53.3, 54.4, 55.4, 56.5, 57.6,
            58.8, 59.8, 60.8, 62.0, 63.1, 64.2, 64.9, 65.6, 66.6, 67.5, 68.1, 68.9, 69.9, 70.7, 71.4, 72.1, 72.9, 73.9, 75.0, 76.2,
            77.2, 78.2, 79.1, 80.1, 81.1, 82.0, 83.0, 84.0, 84.9, 85.9, 86.6, 87.4, 88.4, 89.3, 90.3, 91.3, 92.5, 93.6, 94.6, 95.6,
            96.8, 98.0, 99.0, 100.0, 101.2, 102.3, 102.9, 103.8, 104.8, 105.8, 107.0, 107.7, 108.7, 109.9, 110.6, 111.6, 112.8, 113.5, 114.5, 115.4,
            116.4, 117.4, 118.3, 119.3, 120.0, 120.8, 121.8, 122.9, 124.1, 125.1, 126.1, 127.3, 128.4, 129.5, 130.5, 131.3, 132.4, 133.4, 134.3, 135.3,
            136.3, 137.4, 138.6, 139.6, 140.6, 141.8, 142.9, 144.0, 145.0, 145.9, 146.9, 147.9, 149.1, 150.2, 151.2, 152.2, 153.4, 154.5, 155.6, 156.6,
            157.5, 158.5, 159.5, 160.4, 161.0, 161.8, 162.8, 163.9, 164.7, 165.7, 166.8, 167.6, 168.6, 169.4, 170.1, 170.8, 171.5, 172.3, 173.0, 174.0,
            175.2, 176.3, 177.3, 178.4, 179.2, 180.0, 181.2, 182.3, 183.3, 184.3, 185.5, 186.6, 187.7, 188.7, 189.5, 190.6, 191.3, 192.4, 193.4, 194.5,
            195.6, 196.8, 197.8, 198.8, 200.0, 201.1, 202.1, 203.1, 204.3, 205.0, 206.0, 207.2, 208.3, 209.3, 210.4, 211.2, 212.2, 213.3, 214.1, 215.1,
            216.1, 217.0, 218.0, 219.0, 219.9, 220.9, 221.9, 223.1, 224.2, 225.3, 226.3, 227.4, 228.6, 229.6, 230.6, 231.8, 232.9, 233.9, 234.9, 236.1,
            237.3, 238.3, 239.3, 240.4, 241.6, 242.6, 243.6, 244.5, 245.5, 246.5, 247.7, 248.8, 249.8, 250.8, 252.0, 253.2, 254.2, 255.2, 256.3, 257.2,
            258.1, 259.2, 260.4, 261.4, 262.1, 263.0, 263.9, 265.0, 266.2, 267.2, 268.2, 269.3, 270.5, 271.5, 272.5, 273.7, 274.8, 275.9, 276.9, 278.0,
            279.2, 280.2, 281.2, 282.4, 283.5, 284.5, 285.5, 286.7, 287.8, 288.9, 289.6, 290.3, 291.3, 292.2, 293.2, 293.9, 294.6, 295.6, 296.8, 297.9,
            299.0, 300.0, 300.9, 301.4, 302.0, 302.6, 303.3, 304.1, 304.8, 305.5, 306.6, 307.7, 308.7, 309.8, 311.0, 312.0, 313.0, 313.9, 314.9, 315.9,
            316.8, 317.8, 318.8, 319.7, 320.7, 321.7, 322.5, 323.6, 324.6, 325.7, 326.4, 327.1, 327.9, 328.6, 329.3, 330.0, 330.8, 331.8, 333.0, 334.1,
            335.1, 336.1, 337.3, 338.4, 339.4, 340.4, 341.6, 342.7, 343.8, 344.8, 345.9, 347.1, 348.1, 349.1, 350.3, 351.5, 352.5, 353.5, 354.6, 355.8,
            356.8, 357.6, 358.7, 359.7]
vstd = [4.00, 4.08, 4.00, 3.95, 4.00, 4.10, 4.03, 4.05, 4.00, 3.95, 3.68, 3.76, 4.00, 3.85, 3.56, 3.26, 3.21, 3.31, 3.11, 3.26,
        3.36, 3.11, 2.96, 2.72, 2.87, 2.96, 3.06, 3.01, 2.77, 2.92, 2.96, 3.01, 3.16, 3.36, 3.46, 3.36, 3.11, 3.31, 3.46, 3.61,
        3.56, 3.71, 3.76, 3.81, 3.71, 3.85, 3.95, 3.85, 3.81, 3.95, 4.25, 3.90, 4.00, 4.15, 3.95, 3.90, 4.05, 4.20, 4.00, 3.95,
        4.05, 3.95, 3.85, 3.76, 3.76, 4.15, 4.35, 4.20, 4.40, 4.05, 4.45, 3.95, 4.35, 4.79, 4.69, 4.60, 4.74, 4.45, 4.60, 4.99,
        5.49, 5.91, 5.78, 5.49, 5.34, 5.24, 5.04, 4.74, 4.50, 4.45, 4.20, 3.90, 3.85, 3.66, 3.56, 3.51, 3.56, 3.51, 3.56, 3.66,
        3.81, 3.90, 3.76, 3.71, 3.85, 3.66, 3.56, 3.46, 3.66, 3.76, 3.90, 4.20, 3.95, 3.90, 4.05, 4.00, 4.05, 4.00, 4.10, 3.85,
        3.76, 3.36, 3.46, 3.56, 3.26, 3.41, 3.51, 3.41, 3.51, 3.36, 3.46, 3.11, 2.87, 2.67, 2.62, 2.52, 2.72, 2.77, 2.67, 2.57,
        2.50, 2.47, 2.40, 2.45, 2.52, 2.57, 2.62, 2.67, 2.72, 2.77, 2.87, 3.11, 3.61, 3.95, 3.85, 3.66, 3.56, 3.46, 3.36, 3.31,
        3.31, 3.36, 3.26, 2.96, 3.16, 2.87, 3.01, 2.57, 2.72, 2.62, 2.87, 2.47, 2.57, 2.77, 2.87, 2.67, 2.77, 2.96, 3.21, 3.31,
        3.36, 3.41, 3.36, 3.51, 3.95, 4.05, 3.85, 3.90, 4.30, 4.20, 4.25, 4.45, 4.60, 4.50, 4.35, 4.84, 4.74, 4.40, 4.50, 4.45,
        4.30, 4.05, 3.85, 3.95, 4.10, 4.05, 4.25, 4.50, 4.69, 4.89, 4.84, 4.74, 4.60, 4.74, 4.84, 5.04, 5.09, 4.94, 5.04, 5.09,
        5.26, 4.94, 4.79, 4.99, 4.69, 4.40, 4.10, 4.05, 4.35, 4.05, 4.25, 4.10, 4.30, 4.15, 4.05, 4.00, 3.90, 3.81, 3.85, 3.76,
        3.56, 3.81, 4.10, 4.00, 4.15, 4.00, 4.20, 4.65, 4.20, 4.00, 3.90, 4.00, 4.15, 4.25, 4.30, 4.40, 4.15, 4.20, 4.35, 4.79,
        4.05, 4.00, 4.15, 4.35, 4.15, 4.60, 4.00, 4.05, 3.95, 4.20, 4.45, 4.20, 4.00, 3.81, 3.85, 4.05, 4.15, 4.05, 3.90, 4.25,
        4.35, 4.10, 3.85, 3.76, 3.61, 3.46, 3.51, 3.36, 3.26, 3.46, 3.06, 3.16, 2.96, 2.82, 2.67, 2.92, 2.87, 2.77, 2.87, 2.92,
        2.92, 2.96, 3.11, 2.87, 2.57, 2.92, 2.57, 2.87, 2.92, 3.01, 3.06, 3.16, 3.31, 3.46, 3.56, 3.76, 3.90, 3.85, 3.71, 3.56,
        3.71, 3.76, 3.26, 4.20, 4.05, 4.20, 4.10, 4.25, 4.50, 4.74, 4.79, 4.65, 5.29, 4.45, 3.76, 3.90, 3.85, 3.66, 3.56, 3.26,
        3.41, 3.66, 3.81, 3.56, 3.71, 3.26, 3.46, 3.76, 3.95, 3.85, 4.05, 4.35, 4.10, 4.00, 4.10, 4.15, 4.25, 4.30, 4.25, 4.35,
        4.45, 4.20, 4.15, 4.10]

shade_left = [13, 78, 101, 149, 210, 267, 300, 302, 305, 318, 327]
shade_right = [28, 81, 104, 154, 230, 270, 301, 304, 316, 320, 332]

x_ticks = [0, 60, 120, 180, 240, 300, 360]
left_ticks = [0.5, 0.75, 1.0, 1.25, 1.5, 1.75, 2.0]
LEFT_RANGE = (0.4, 2.0)

ICE_LABEL = "ice edge std 1979-2025"
RED = "#ff0000"
GREEN = "#32cd32"
BLUE = "#4682b4"
GREY = "#dcdcdc"

FRAME_W = 828
FRAME_H = 264


def style_axis(ax, color="black"):
    ax.major_label_text_font = FONT
    ax.major_label_text_font_size = FS
    ax.major_label_text_color = color
    ax.axis_label_text_font = FONT
    ax.axis_label_text_font_size = FS
    ax.axis_label_text_font_style = "normal"
    ax.axis_label_text_color = color
    ax.axis_line_color = "black"
    ax.axis_line_width = 1.3
    ax.major_tick_line_color = color
    ax.major_tick_line_width = 1.3
    ax.major_tick_out = 6
    ax.major_tick_in = 0
    ax.minor_tick_line_color = None
    ax.major_label_standoff = 7
    ax.axis_label_standoff = 8


def make_legend(items, loc, orientation="vertical"):
    return Legend(items=items, location=loc, orientation=orientation,
                  label_text_font=FONT, label_text_font_size=FS, label_text_color="black",
                  glyph_width=37, glyph_height=20, label_height=20,
                  label_standoff=13, padding=5, margin=10, spacing=36,
                  background_fill_alpha=0, border_line_alpha=0)


def make_panel(tag, rlabel, rrange, rticks, rfmt, rcolor, right_border, label_w, top, bottom, xlabel=None):
    p = figure(frame_width=FRAME_W, frame_height=FRAME_H,
               x_range=Range1d(0, 360), y_range=Range1d(*LEFT_RANGE),
               output_backend="svg", toolbar_location=None,
               min_border_left=84, min_border_right=right_border,
               min_border_top=top, min_border_bottom=bottom, title=tag)
    p.title.text_font = FONT
    p.title.text_font_size = FS
    p.title.text_font_style = "normal"
    p.title.text_color = "black"
    p.title.align = "left"
    p.title.offset = 0
    p.title.standoff = 1
    p.xgrid.visible = False
    p.ygrid.visible = False
    p.outline_line_color = "black"
    p.outline_line_width = 1.3
    p.background_fill_color = "white"

    xa = p.xaxis[0]
    style_axis(xa)
    xa.ticker = FixedTicker(ticks=x_ticks)
    xa.formatter = PrintfTickFormatter(format="%d")
    if xlabel:
        xa.axis_label = xlabel
        xa.axis_label_standoff = 3

    ya = p.yaxis[0]
    style_axis(ya)
    ya.ticker = FixedTicker(ticks=left_ticks)
    ya.formatter = PrintfTickFormatter(format="%.2f")
    ya.axis_label = "Ice edge std"

    p.extra_y_ranges = {"r": Range1d(*rrange)}
    ra = LinearAxis(y_range_name="r")
    style_axis(ra, rcolor)
    ra.ticker = FixedTicker(ticks=rticks)
    ra.formatter = PrintfTickFormatter(format=rfmt)
    p.add_layout(ra, "right")

    for l, r in zip(shade_left, shade_right):
        p.add_layout(BoxAnnotation(left=l, right=r, fill_color=GREY, fill_alpha=1.0,
                                   line_color=None, level="underlay"))

    ice = p.line(ice_lon, ice_std, line_color="black", line_width=3, line_join="round")

    # narrow strip to the right holding the right-axis title (reads bottom-to-top)
    s = figure(frame_width=label_w, frame_height=FRAME_H,
               x_range=Range1d(0, 1), y_range=Range1d(0, 1),
               x_axis_type=None, y_axis_type=None,
               output_backend="svg", toolbar_location=None,
               min_border_left=0, min_border_right=0,
               min_border_top=top, min_border_bottom=bottom)
    s.outline_line_color = None
    s.xgrid.visible = False
    s.ygrid.visible = False
    s.add_layout(Label(x=0.5, y=0.5, text=rlabel, angle=math.pi / 2,
                       text_align="center", text_baseline="middle",
                       text_color=rcolor, text_font=FONT, text_font_size=FS))
    return p, ice, s


# panel a
pa, ice_a, sa = make_panel("a)", "Latitude dif", (0.74, 11.38), [2, 4, 6, 8, 10], "%d", RED, 37, 25, 34, 30)
red = pa.line(pf_lon, pf_dist, y_range_name="r", line_color=RED, line_width=1.7)
pa.add_layout(make_legend([LegendItem(label=ICE_LABEL, renderers=[ice_a])], "top_right"), "center")
pa.add_layout(make_legend([LegendItem(label="distance pf", renderers=[red])], "bottom_left"), "center")

# panel b
pb, ice_b, sb = make_panel("b)", "EKE", (-0.005, 0.07), [0.0, 0.02, 0.04, 0.06], "%.2f", GREEN, 52, 23, 23, 30)
bl = pb.line(eke2_lon, eke2, y_range_name="r", line_color=BLUE, line_width=1.7, line_dash="6 3")
gr = pb.line(eke10_lon, eke10, y_range_name="r", line_color=GREEN, line_width=1.7, line_dash="6 3")
pb.add_layout(make_legend([LegendItem(label=ICE_LABEL, renderers=[ice_b])], "bottom_left"), "center")
pb.add_layout(make_legend([LegendItem(label="EKE+2", renderers=[bl]),
                           LegendItem(label="EKE+10", renderers=[gr])], "bottom_right", "horizontal"), "center")

# panel c
pc, ice_c, sc = make_panel("c)", "Vg std", (0.0, 0.08), [0.0, 0.02, 0.04, 0.06, 0.08], "%.2f", GREEN, 52, 23, 34, 30)
vg = pc.line(vg_lon, vg_std, y_range_name="r", line_color=GREEN, line_width=1.7, line_dash="6 3")
pc.add_layout(make_legend([LegendItem(label=ICE_LABEL, renderers=[ice_c])], "bottom_left"), "center")
pc.add_layout(make_legend([LegendItem(label="Vg std", renderers=[vg])], "bottom_right"), "center")

# panel d
pd_, ice_d, sd = make_panel("d)", "ice velocity std", (2.19, 6.09), [3, 4, 5, 6], "%d", GREEN, 26, 23, 23, 50,
                            xlabel="Longitude")
vs = pd_.line(vstd_lon, vstd, y_range_name="r", line_color=GREEN, line_width=1.7, line_dash="6 3")
pd_.add_layout(make_legend([LegendItem(label=ICE_LABEL, renderers=[ice_d])], "bottom_left"), "center")
pd_.add_layout(make_legend([LegendItem(label="vstd", renderers=[vs])], "bottom_right"), "center")

layout = column(row(pa, sa, spacing=0), row(pb, sb, spacing=0),
                row(pc, sc, spacing=0), row(pd_, sd, spacing=0), spacing=0)
open("out.html", "w").write(file_html(layout, INLINE))
